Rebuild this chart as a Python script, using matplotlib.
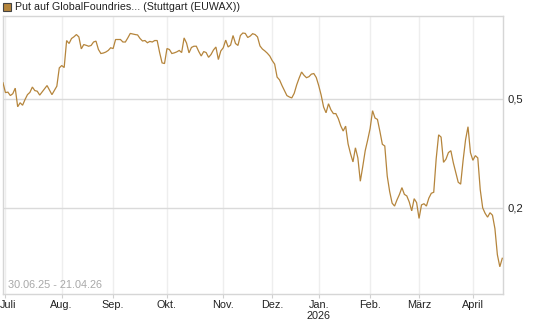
import numpy as np
import pandas as pd
import matplotlib
matplotlib.use("Agg")
import matplotlib.pyplot as plt
import matplotlib.transforms as mtransforms
from matplotlib.ticker import FixedLocator, NullLocator, NullFormatter
from matplotlib.patches import Rectangle

plt.rcParams['font.family'] = ['Liberation Sans', 'DejaVu Sans']

# ---- data ----
title = "Put auf GlobalFoundries... (Stuttgart (EUWAX))"
date_range_label = "30.06.25 - 21.04.26"
start_date = "2025-06-30"
end_date = "2026-04-21"
holidays = ["2025-12-24", "2025-12-25", "2025-12-26", "2025-12-31",
            "2026-01-01", "2026-04-03", "2026-04-06"]
month_labels = ["Juli", "Aug.", "Sep.", "Okt.", "Nov.", "Dez.",
                "Jan.\n2026", "Feb.", "März", "April"]
y_ticks = [0.2, 0.5]
y_tick_labels = ["0,2", "0,5"]

prices = [
    0.571, 0.526, 0.528, 0.513, 0.521, 0.546, 0.467, 0.483, 0.473, 0.496,
    0.517, 0.527, 0.551, 0.535, 0.532, 0.515, 0.529, 0.544, 0.558, 0.537,
    0.517, 0.536, 0.555, 0.647, 0.660, 0.649, 0.814, 0.794, 0.828, 0.840,
    0.856, 0.839, 0.759, 0.787, 0.782, 0.776, 0.781, 0.804, 0.810, 0.755,
    0.730, 0.733, 0.739, 0.749, 0.766, 0.761, 0.821, 0.821, 0.821, 0.804,
    0.804, 0.832, 0.864, 0.860, 0.856, 0.853, 0.828, 0.811, 0.814, 0.799,
    0.808, 0.804, 0.814, 0.814, 0.736, 0.675, 0.671, 0.761, 0.755, 0.730,
    0.734, 0.740, 0.749, 0.736, 0.832, 0.797, 0.734, 0.768, 0.776, 0.776,
    0.742, 0.715, 0.742, 0.736, 0.707, 0.724, 0.752, 0.771, 0.694, 0.746,
    0.766, 0.817, 0.771, 0.784, 0.849, 0.794, 0.781, 0.849, 0.867, 0.864,
    0.835, 0.845, 0.862, 0.856, 0.839, 0.778, 0.758, 0.746, 0.732, 0.715,
    0.688, 0.668, 0.599, 0.585, 0.558, 0.535, 0.513, 0.507, 0.503, 0.523,
    0.561, 0.594, 0.625, 0.608, 0.596, 0.601, 0.614, 0.617, 0.597, 0.558,
    0.515, 0.466, 0.444, 0.479, 0.455, 0.441, 0.441, 0.423, 0.398, 0.381,
    0.397, 0.342, 0.315, 0.294, 0.331, 0.304, 0.250, 0.283, 0.323, 0.353,
    0.389, 0.452, 0.425, 0.420, 0.380, 0.341, 0.336, 0.261, 0.229, 0.208,
    0.203, 0.214, 0.224, 0.237, 0.224, 0.221, 0.210, 0.195, 0.216, 0.209,
    0.183, 0.205, 0.207, 0.203, 0.217, 0.226, 0.228, 0.302, 0.369, 0.362,
    0.293, 0.301, 0.318, 0.323, 0.292, 0.269, 0.248, 0.244, 0.298, 0.354,
    0.395, 0.318, 0.298, 0.310, 0.304, 0.233, 0.200, 0.191, 0.185, 0.192,
    0.188, 0.168, 0.135, 0.122, 0.131,
]

# ---- trading-day axis ----
dates = pd.bdate_range(start_date, end_date)
dates = dates[~dates.isin(pd.to_datetime(holidays))]
n = min(len(dates), len(prices))
dates = dates[:n]
vals = np.array(prices[:n])
x = np.arange(n)

months = dates.to_period("M")
first_idx = [i for i in range(n) if i > 0 and months[i] != months[i - 1]]

line_color = "#b5853c"
fs = 7.8

fig = plt.figure(figsize=(5.45, 3.27), dpi=100)
W, H = 545, 327
left, right, top, bottom = 2.5, 503, 16, 293.5
ax = fig.add_axes([left / W, 1 - bottom / H, (right - left) / W, (bottom - top) / H])

ax.plot(x, vals, color=line_color, lw=0.9, solid_joinstyle="miter", zorder=3)

ax.set_yscale("log")
ax.set_ylim(0.0975, 1.0)
ax.set_xlim(-0.2, n - 1 + 0.3)

ax.yaxis.set_major_locator(FixedLocator(y_ticks))
ax.yaxis.set_minor_locator(NullLocator())
ax.yaxis.set_minor_formatter(NullFormatter())
ax.set_yticklabels(y_tick_labels)
ax.yaxis.tick_right()
ax.tick_params(axis="y", length=0, pad=3, labelsize=fs + 0.3, labelcolor="#222222")

ax.set_xticks(first_idx)
ax.set_xticklabels(month_labels[:len(first_idx)])
ax.tick_params(axis="x", length=3, width=0.8, color="#d0d0d0", pad=1.5,
               labelsize=fs, labelcolor="#222222")
# keep the first month label inside the figure
first_lbl = ax.get_xticklabels()[0]
first_lbl.set_transform(first_lbl.get_transform() +
                        mtransforms.ScaledTranslation(2.5 / 100, 0, fig.dpi_scale_trans))

for s in ax.spines.values():
    s.set_color("#d6d6d6")
    s.set_linewidth(1.0)

for xi in first_idx:
    ax.axvline(xi, color="#eeeeee", lw=1.0, zorder=1)
for yt in y_ticks:
    ax.axhline(yt, color="#dadada", lw=1.0, zorder=1)

ax.text(0.011, 0.012, date_range_label, transform=ax.transAxes,
        fontsize=fs, color="#a8a8a8", ha="left", va="bottom")

# legend-like title
fig.patches.append(Rectangle((3 / W, 1 - 11 / H), 8 / W, 8 / H,
                             transform=fig.transFigure, facecolor=line_color,
                             edgecolor="#444444", lw=0.8))
fig.text(15 / W, 1 - 7.5 / H, title, fontsize=fs - 0.1, color="#222222",
         ha="left", va="center")

fig.savefig("out.png", dpi=100)
